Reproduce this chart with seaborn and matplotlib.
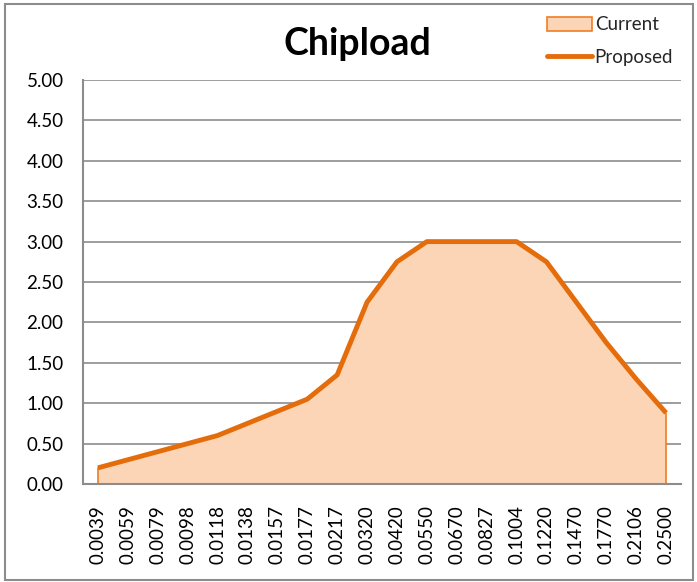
import matplotlib
matplotlib.use("Agg")
import matplotlib.pyplot as plt
import seaborn as sns
import pandas as pd
from matplotlib.patches import Rectangle, Patch
from matplotlib.lines import Line2D

# chipload per category
categories = ["0.0039", "0.0059", "0.0079", "0.0098", "0.0118", "0.0138", "0.0157",
              "0.0177", "0.0217", "0.0320", "0.0420", "0.0550", "0.0670", "0.0827",
              "0.1004", "0.1220", "0.1470", "0.1770", "0.2106", "0.2500"]
current = [0.2, 0.3, 0.4, 0.5, 0.6, 0.75, 0.9, 1.05, 1.35, 2.25, 2.75, 3.0, 3.0, 3.0,
           3.0, 2.75, 2.25, 1.75, 1.3, 0.88]
proposed = [0.2, 0.3, 0.4, 0.5, 0.6, 0.75, 0.9, 1.05, 1.35, 2.25, 2.75, 3.0, 3.0, 3.0,
            3.0, 2.75, 2.25, 1.75, 1.3, 0.88]
y_ticks = [0.0, 0.5, 1.0, 1.5, 2.0, 2.5, 3.0, 3.5, 4.0, 4.5, 5.0]

ORANGE = "#E46C0A"
FILL = "#FBD5B5"
GRID = "#8C8C8C"

df = pd.DataFrame({"pos": range(len(categories)), "current": current, "proposed": proposed})

sns.set_style("white")
plt.rcParams["font.family"] = ["Lato", "DejaVu Sans"]

fig = plt.figure(figsize=(6.97, 5.82), dpi=100)
ax = fig.add_axes([83 / 697, 1 - 484 / 582, 598 / 697, 404 / 582])

ax.fill_between(df["pos"], 0, df["current"], color=FILL, edgecolor="none", zorder=2)
ax.plot([df["pos"].iloc[0]] * 2, [0, df["current"].iloc[0]], color="#F07E26", lw=1.2, zorder=3)
ax.plot([df["pos"].iloc[-1]] * 2, [0, df["current"].iloc[-1]], color="#F07E26", lw=1.2, zorder=3)
sns.lineplot(data=df, x="pos", y="proposed", color=ORANGE, linewidth=3.5, ax=ax, zorder=4,
             solid_capstyle="butt")

ax.set_xlim(-0.5, len(categories) - 0.5)
ax.set_ylim(0, 5)
ax.set_yticks(y_ticks)
ax.set_yticklabels([f"{v:.2f}" for v in y_ticks], fontsize=13.5)
ax.set_xticks(df["pos"])
ax.set_xticklabels(categories, rotation=90, fontsize=13.5)
ax.tick_params(axis="y", length=0, pad=14, colors="black")
ax.tick_params(axis="x", length=0, pad=15, colors="black")
ax.yaxis.grid(True, color=GRID, lw=1.2, zorder=1)
ax.set_axisbelow(True)
for side in ["top", "right"]:
    ax.spines[side].set_visible(False)
for side in ["left", "bottom"]:
    ax.spines[side].set_color(GRID)
    ax.spines[side].set_linewidth(1.5)
    ax.spines[side].set_zorder(5)
ax.set_xlabel("")
ax.set_ylabel("")

fig.text(357 / 697, 1 - 44 / 582, "Chipload", ha="center", va="center",
         fontsize=27, fontweight="bold", color="black")

handles = [Patch(facecolor=FILL, edgecolor="#F07E26", lw=1.2),
           Line2D([0], [0], color=ORANGE, lw=3.5)]
fig.legend(handles, ["Current", "Proposed"], loc="center", bbox_to_anchor=(610 / 697, 1 - 41 / 582),
           frameon=False, fontsize=13.5, handlelength=2.4, handletextpad=0.15, labelspacing=0.8,
           borderpad=0)

fig.patches.append(Rectangle((5 / 697, 2 / 582), 688 / 697, 576 / 582, transform=fig.transFigure,
                             fill=False, edgecolor="#8C8C8C", lw=1.5))

fig.savefig("out.png", dpi=100)
